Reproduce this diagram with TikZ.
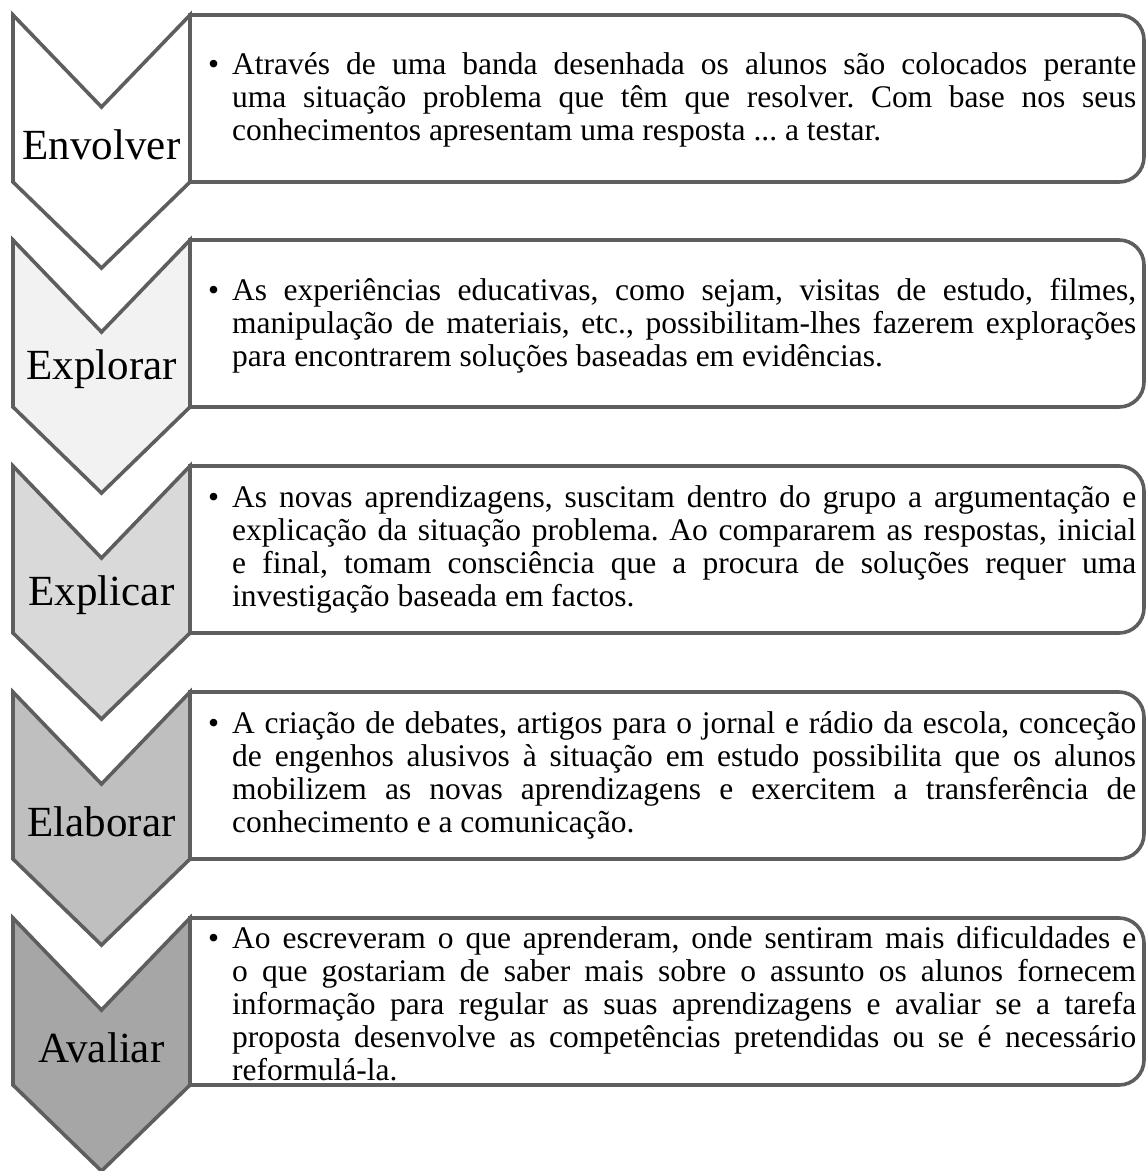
\documentclass[tikz,border=0pt]{standalone}
\usepackage{fontspec}
\setmainfont{Liberation Serif}
\frenchspacing
\tolerance=10000
\hbadness=10000
\definecolor{edgegray}{HTML}{5E5E5E}
\definecolor{shadeA}{HTML}{FFFFFF}
\definecolor{shadeB}{HTML}{F2F2F2}
\definecolor{shadeC}{HTML}{D9D9D9}
\definecolor{shadeD}{HTML}{BFBFBF}
\definecolor{shadeE}{HTML}{A6A6A6}

\begin{document}
\begin{tikzpicture}[x=1pt,y=-1pt]
	\tikzstyle{chevron}=[draw=edgegray,line width=3.6pt]
	\tikzstyle{panel}=[draw=edgegray,line width=3.6pt,fill=white]
	\tikzstyle{stagename}=[inner sep=0pt,font=\fontsize{43}{48}\selectfont]
	\tikzstyle{bodytext}=[anchor=west,inner sep=0pt,text width=904pt,align=justify,
		font=\fontsize{31.5}{33}\selectfont]
	\useasboundingbox (0,0) rectangle (1146,1171);
	% Envolver
	\draw[panel] (190,15) [rounded corners=25pt] -- (1144,15) -- (1144,182) [sharp corners] -- (190,182) -- cycle;
	\draw[chevron,fill=shadeA] (13,15) -- (101.5,107) -- (190,15) -- (190,182) -- (101.5,268) -- (13,182) -- cycle;
	\node[stagename](envolver) at (101.5,144.5) {Envolver};
	\node[bodytext](t1) at (232,99.5) {\noindent\llap{\textbullet\hspace{13pt}}Através de uma banda desenhada os alunos são colocados perante\linebreak uma situação problema que têm que resolver. Com base nos seus\linebreak conhecimentos apresentam uma resposta ... a testar.};
	% Explorar
	\draw[panel] (190,240) [rounded corners=25pt] -- (1144,240) -- (1144,407) [sharp corners] -- (190,407) -- cycle;
	\draw[chevron,fill=shadeB] (13,240) -- (101.5,332) -- (190,240) -- (190,407) -- (101.5,493) -- (13,407) -- cycle;
	\node[stagename](explorar) at (101.5,369.5) {Explorar};
	\node[bodytext](t2) at (232,325.5) {\noindent\llap{\textbullet\hspace{13pt}}As experiências educativas, como sejam, visitas de estudo, filmes,\linebreak manipulação de materiais, etc., possibilitam-lhes fazerem explorações\linebreak para encontrarem soluções baseadas em evidências.};
	% Explicar
	\draw[panel] (190,466) [rounded corners=25pt] -- (1144,466) -- (1144,633) [sharp corners] -- (190,633) -- cycle;
	\draw[chevron,fill=shadeC] (13,466) -- (101.5,558) -- (190,466) -- (190,633) -- (101.5,719) -- (13,633) -- cycle;
	\node[stagename](explicar) at (101.5,595.5) {Explicar};
	\node[bodytext](t3) at (232,549.5) {\noindent\llap{\textbullet\hspace{13pt}}As novas aprendizagens, suscitam dentro do grupo a argumentação e\linebreak explicação da situação problema. Ao compararem as respostas, inicial\linebreak e final, tomam consciência que a procura de soluções requer uma\linebreak investigação baseada em factos.};
	% Elaborar
	\draw[panel] (190,692) [rounded corners=25pt] -- (1144,692) -- (1144,859) [sharp corners] -- (190,859) -- cycle;
	\draw[chevron,fill=shadeD] (13,692) -- (101.5,784) -- (190,692) -- (190,859) -- (101.5,945) -- (13,859) -- cycle;
	\node[stagename](elaborar) at (101.5,821.5) {Elaborar};
	\node[bodytext](t4) at (232,775.5) {\noindent\llap{\textbullet\hspace{13pt}}A criação de debates, artigos para o jornal e rádio da escola, conceção\linebreak de engenhos alusivos à situação em estudo possibilita que os alunos\linebreak mobilizem as novas aprendizagens e exercitem a transferência de\linebreak conhecimento e a comunicação.};
	% Avaliar
	\draw[panel] (190,918) [rounded corners=25pt] -- (1144,918) -- (1144,1085) [sharp corners] -- (190,1085) -- cycle;
	\draw[chevron,fill=shadeE] (13,918) -- (101.5,1010) -- (190,918) -- (190,1085) -- (101.5,1171) -- (13,1085) -- cycle;
	\node[stagename](avaliar) at (101.5,1047.5) {Avaliar};
	\node[bodytext](t5) at (232,1003.5) {\noindent\llap{\textbullet\hspace{13pt}}Ao escreveram o que aprenderam, onde sentiram mais dificuldades e\linebreak o que gostariam de saber mais sobre o assunto os alunos fornecem\linebreak informação para regular as suas aprendizagens e avaliar se a tarefa\linebreak proposta desenvolve as competências pretendidas ou se é necessário\linebreak reformulá-la.};
\end{tikzpicture}
\end{document}
